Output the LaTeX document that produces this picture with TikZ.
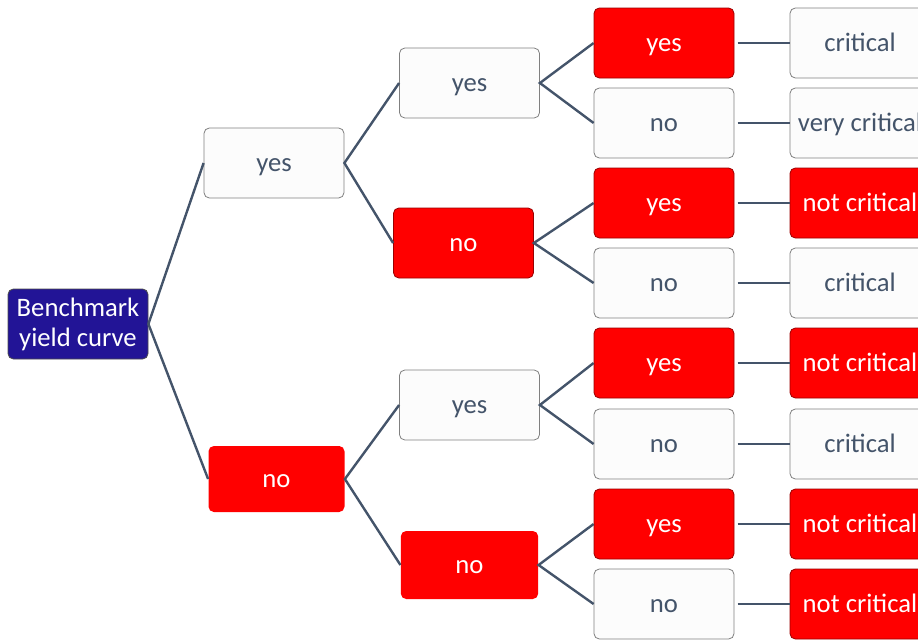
\documentclass[tikz,border=0pt]{standalone}
\usepackage{fontspec}
\setmainfont{Carlito}
\usepackage{tikz}
\usetikzlibrary{calc}

\definecolor{slate}{RGB}{68,84,106}
\definecolor{rootblue}{RGB}{34,20,150}
\definecolor{boxred}{RGB}{255,0,0}

\tikzset{
	box/.style={rectangle, rounded corners=4pt, minimum width=105pt,
		minimum height=52.5pt, inner sep=0pt, font=\fontsize{20}{22.5}\selectfont,
		text height=1.35em, text depth=0.15em, line width=0.6pt},
	whitebox/.style={box, draw=black!50, fill=white!99!black, text=slate},
	redbox/.style={box, draw=red!60!black, fill=boxred, text=white},
	rootbox/.style={box, draw=black!70, fill=rootblue, text=white, align=center,
		text height=, text depth=},
	branch/.style={draw=slate, line width=1.8pt},
}

\begin{document}
\begin{tikzpicture}[x=0.75pt, y=-0.75pt]
	\clip (0,0) rectangle (918,640);
	\useasboundingbox (0,0) rectangle (918,640);

	\node[rootbox] (root) at (78,324) {Benchmark\\yield curve};

	\node[whitebox] (y)  at (274,163) {yes};
	\node[redbox, draw=none, minimum width=102pt, minimum height=49.5pt] (n) at (276.5,479) {no};

	\node[whitebox] (yy) at (469.5,83)  {yes};
	\node[redbox]   (yn) at (463.5,243) {no};
	\node[whitebox] (ny) at (469.5,405) {yes};
	\node[redbox, draw=none, minimum width=103pt, minimum height=51pt] (nn) at (469.5,565) {no};

	\node[redbox]   (yyy) at (664,43)  {yes};
	\node[whitebox] (yyn) at (664,123) {no};
	\node[redbox]   (yny) at (664,203) {yes};
	\node[whitebox] (ynn) at (664,283) {no};
	\node[redbox]   (nyy) at (664,363) {yes};
	\node[whitebox] (nyn) at (664,444) {no};
	\node[redbox]   (nny) at (664,524) {yes};
	\node[whitebox] (nnn) at (664,604) {no};

	\node[whitebox] (c1) at (860,43)  {critical};
	\node[whitebox] (c2) at (860,123) {very critical};
	\node[redbox]   (c3) at (860,203) {not critical};
	\node[whitebox] (c4) at (860,283) {critical};
	\node[redbox]   (c5) at (860,363) {not critical};
	\node[whitebox] (c6) at (860,444) {critical};
	\node[redbox]   (c7) at (860,524) {not critical};
	\node[redbox]   (c8) at (860,604) {not critical};

	% tree branches
	\draw[branch] (y.west) -- (root.east) -- (n.west);
	\draw[branch] (yy.west) -- (y.east) -- (yn.west);
	\draw[branch] (ny.west) -- (n.east) -- (nn.west);
	\draw[branch] (yyy.west) -- (yy.east) -- (yyn.west);
	\draw[branch] (yny.west) -- (yn.east) -- (ynn.west);
	\draw[branch] (nyy.west) -- (ny.east) -- (nyn.west);
	\draw[branch] (nny.west) -- (nn.east) -- (nnn.west);

	\foreach \a/\b in {yyy/c1, yyn/c2, yny/c3, ynn/c4, nyy/c5, nyn/c6, nny/c7, nnn/c8}
		\draw[branch, shorten <=2.5pt] (\a.east) -- (\b.west);
\end{tikzpicture}
\end{document}
